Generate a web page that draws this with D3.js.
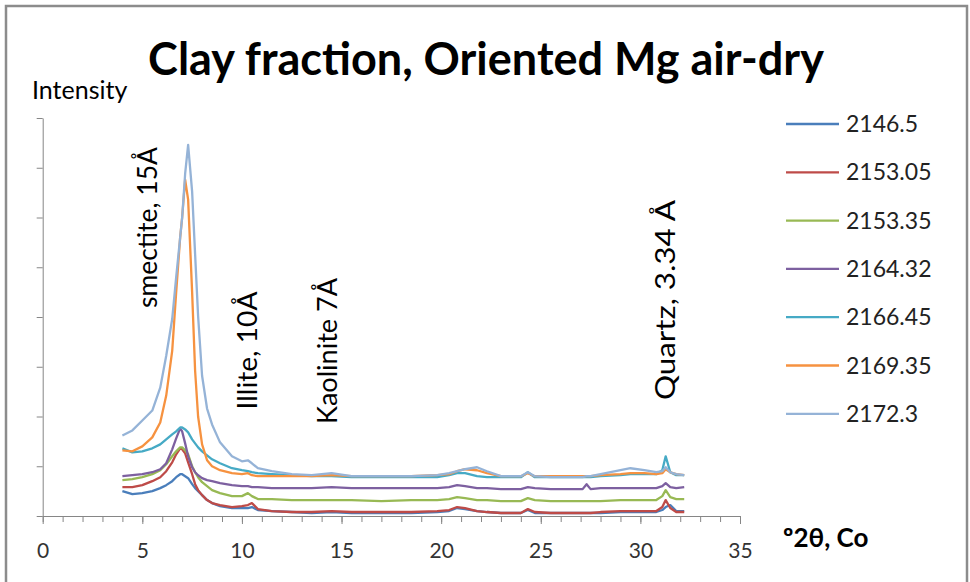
<!DOCTYPE html>
<html>
<head>
<meta charset="utf-8">
<script src="https://cdn.jsdelivr.net/npm/d3@7"></script>
<style>
  html, body { margin: 0; padding: 0; background: #fff; }
  svg { display: block; font-family: Lato, "Open Sans", sans-serif; }
</style>
</head>
<body>
<svg id="chart" width="970" height="582"></svg>
<script>
// ---- data ----
const twoTheta = [4.0,4.5,5.0,5.5,5.9,6.2,6.5,6.7,6.9,7.0,7.15,7.3,7.5,7.65,7.8,8.0,8.25,8.5,8.9,9.5,
  10.0,10.3,10.5,10.8,11.5,12.5,13.5,14.5,15.5,17,18.5,19.8,20.4,20.8,21.2,21.8,22.3,23,24.0,24.35,
  24.7,25.5,26.5,27.1,27.3,27.5,28,29,29.5,30.2,30.8,31.1,31.27,31.5,31.8,32.2];

const seriesNames = ["2146.5","2153.05","2153.35","2164.32","2166.45","2169.35","2172.3"];
const seriesColors = ["#4A7EBB","#BE4B48","#98B954","#7D60A0","#46AAC5","#F69240","#95B3D7"];

const s2146_5 = [500,440,460,500,560,620,700,780,840,840,800,760,640,560,500,420,320,260,200,160,
  160,160,180,120,100,80,60,80,60,60,60,80,100,160,140,100,80,60,60,120,
  60,60,60,60,60,60,60,80,80,80,80,120,180,220,100,100];
const s2153_05 = [580,580,620,700,780,900,1080,1240,1360,1340,1260,1080,840,640,520,420,320,260,220,180,
  200,220,260,140,100,80,80,100,80,80,80,100,120,180,160,100,80,60,60,140,
  80,60,60,60,60,60,80,100,100,100,100,180,320,160,80,80];
const s2153_35 = [720,740,780,840,920,1040,1200,1300,1380,1380,1320,1240,1000,880,780,680,600,520,460,400,
  400,460,400,340,340,320,320,320,320,300,320,320,340,380,360,320,320,300,300,360,
  320,300,300,300,300,300,300,320,320,320,320,400,520,380,340,340];
const s2164_32 = [800,820,840,880,940,1060,1340,1560,1760,1700,1460,1200,980,880,820,760,720,700,660,620,
  600,600,580,580,560,560,560,580,560,560,560,560,580,620,600,560,560,540,540,580,
  560,540,540,540,640,540,560,560,560,560,560,600,660,580,560,580];
const s2166_45 = [1360,1280,1300,1360,1440,1540,1640,1700,1780,1780,1740,1680,1540,1460,1380,1300,1220,1140,1060,960,
  920,900,880,860,840,820,800,800,780,780,780,780,820,860,860,800,780,780,780,880,
  780,780,780,780,780,780,800,820,840,840,840,920,1200,880,820,820];
const s2169_35 = [1320,1300,1400,1580,1880,2420,3320,4500,5600,6000,6760,6360,4500,2920,2000,1440,1120,1000,920,860,
  840,860,820,800,800,800,800,820,800,800,800,820,840,900,940,920,860,800,800,860,
  800,800,800,800,800,800,820,840,860,860,840,860,940,880,840,820];
const s2172_3 = [1620,1720,1920,2120,2580,3220,3960,4800,5600,6000,6880,7460,6520,5260,4020,2820,2160,1840,1480,1200,
  1100,1120,1060,960,900,840,820,860,800,800,800,820,860,900,940,980,900,800,800,880,
  800,780,780,780,800,800,840,920,960,920,880,900,980,880,840,820];

const seriesValues = [s2146_5, s2153_05, s2153_35, s2164_32, s2166_45, s2169_35, s2172_3];

const xMajorTicks = [0,5,10,15,20,25,30,35];
const xMinorTicks = d3.range(0, 36, 1);
const yTicks = d3.range(0, 8001, 1000);

const annotations = [
  {text: "smectite, 15Å", at: 5.3, bottom: 4180, len: 161},
  {text: "Illite, 10Å", at: 10.3, bottom: 2140, len: 118},
  {text: "Kaolinite 7Å", at: 14.3, bottom: 1850, len: 146},
  {text: "Quartz, 3.34 Å", at: 31.3, bottom: 2330, len: 200}
];

// ---- drawing ----
const svg = d3.select("#chart");

svg.append("rect").attr("x", 0).attr("y", 0).attr("width", 970).attr("height", 582).attr("fill", "#fff");
svg.append("rect").attr("x", 6).attr("y", 6).attr("width", 961).attr("height", 600)
  .attr("fill", "none").attr("stroke", "#8c8c8c").attr("stroke-width", 2.5);

const x = d3.scaleLinear().domain([0, 35]).range([42.7, 740]);
const y = d3.scaleLinear().domain([0, 8000]).range([516, 118]);

// y axis (no labels)
const yAxis = svg.append("g").attr("transform", `translate(${x(0)},0)`)
  .call(d3.axisLeft(y).tickValues(yTicks).tickSize(6).tickSizeOuter(0).tickFormat(""));
yAxis.selectAll("path, line").attr("stroke", "#868686");

// x axis minor ticks
const xMinor = svg.append("g").attr("transform", `translate(0,${y(0)})`)
  .call(d3.axisBottom(x).tickValues(xMinorTicks).tickSize(6).tickSizeOuter(0).tickFormat(""));
xMinor.selectAll("path, line").attr("stroke", "#868686");

// x axis major ticks with labels
const xAxis = svg.append("g").attr("transform", `translate(0,${y(0)})`)
  .call(d3.axisBottom(x).tickValues(xMajorTicks).tickSize(8).tickSizeOuter(0).tickPadding(19));
xAxis.selectAll("path, line").attr("stroke", "#868686");
xAxis.selectAll("text").attr("font-size", 21).attr("fill", "#333").attr("font-family", "Lato, sans-serif");

// lines
const line = d3.line().x((d, i) => x(twoTheta[i])).y(d => y(d));
seriesValues.forEach((vals, k) => {
  svg.append("path").datum(vals)
    .attr("d", line)
    .attr("fill", "none")
    .attr("stroke", seriesColors[k])
    .attr("stroke-width", 2.3)
    .attr("stroke-linejoin", "round");
});

// annotations (rotated)
annotations.forEach(a => {
  const cx = x(a.at), by = y(a.bottom);
  svg.append("text")
    .attr("transform", `translate(${cx},${by}) rotate(-90)`)
    .attr("dy", "0.35em")
    .attr("font-size", 26)
    .attr("textLength", a.len)
    .attr("lengthAdjust", "spacingAndGlyphs")
    .attr("fill", "#000")
    .text(a.text);
});

// title
svg.append("text").attr("x", 486).attr("y", 75).attr("text-anchor", "middle")
  .attr("font-size", 45).attr("font-weight", "bold").attr("fill", "#000")
  .text("Clay fraction, Oriented Mg air-dry");

// y axis title
svg.append("text").attr("x", 32).attr("y", 99).attr("font-size", 25).attr("fill", "#000")
  .text("Intensity");

// x axis title
svg.append("text").attr("x", 783).attr("y", 547).attr("font-size", 26).attr("font-weight", "bold").attr("fill", "#000")
  .text("º2θ, Co");

// legend
const legend = svg.append("g");
seriesNames.forEach((name, k) => {
  const ly = 124 + k * 48.3;
  legend.append("line").attr("x1", 786).attr("x2", 839).attr("y1", ly).attr("y2", ly)
    .attr("stroke", seriesColors[k]).attr("stroke-width", 2.3);
  legend.append("text").attr("x", 846).attr("y", ly).attr("dy", "0.35em")
    .attr("font-size", 23).attr("fill", "#222").text(name);
});
</script>
</body>
</html>
